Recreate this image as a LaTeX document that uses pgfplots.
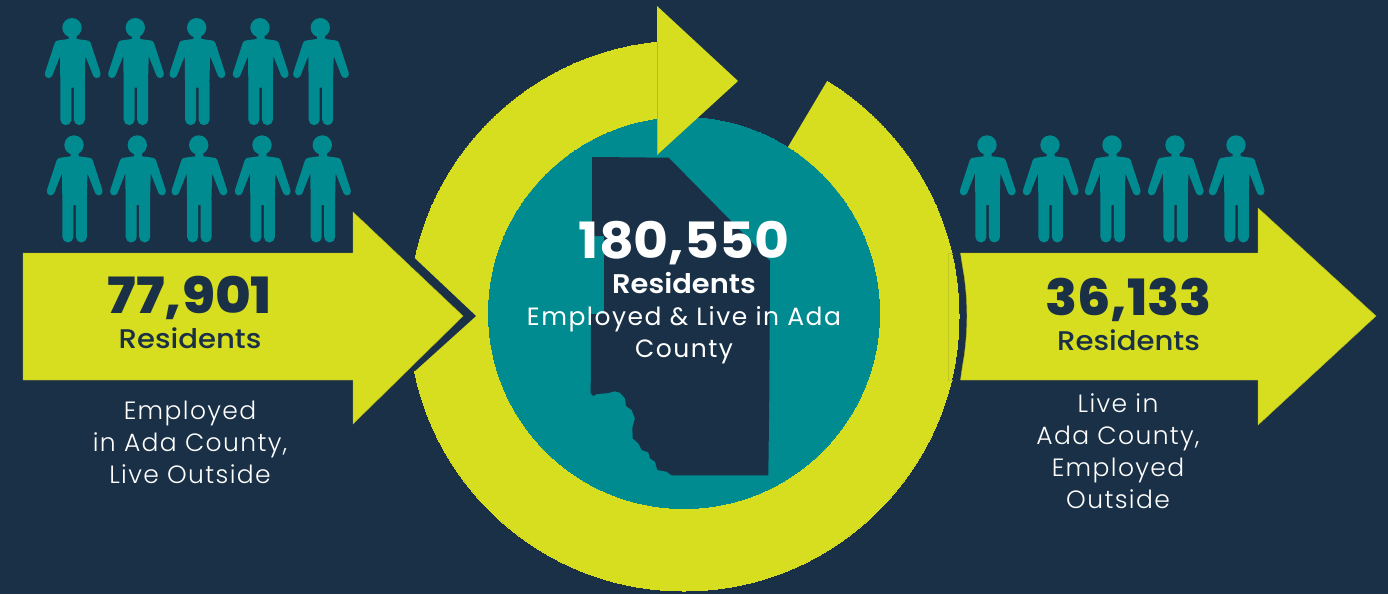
\documentclass[border=0pt]{standalone}
\usepackage{pgfplots}
\pgfplotsset{compat=1.18}
\usepackage{fontspec}
\setmainfont{Poppins}
\newfontfamily\numw[FakeStretch=1.075]{Poppins Bold}
\newfontfamily\numd[FakeStretch=1.05]{Poppins ExtraBold}
\newfontfamily\numl[FakeStretch=1.09]{Poppins ExtraBold}
\newfontfamily\semi[FakeStretch=1.08]{Poppins Medium}
\newfontfamily\semic[FakeStretch=1.07]{Poppins SemiBold}
\newfontfamily\lite[LetterSpace=5.5]{Poppins Light}
\newfontfamily\litec[LetterSpace=6]{Poppins}
\definecolor{navy}{HTML}{1A3046}
\definecolor{teal2}{HTML}{008B91}
\definecolor{lime}{HTML}{D7DD1F}
\definecolor{olive}{HTML}{B4BA24}
\definecolor{ghost}{HTML}{C2C824}
\tikzset{tx/.style={anchor=base, inner sep=0pt, align=center}}

% One standing figure; the origin of the mark is the centre of the head.
\newcommand\mv[2]{\pgfpathmoveto{\pgfqpoint{#1pt}{#2pt}}}
\newcommand\li[2]{\pgfpathlineto{\pgfqpoint{#1pt}{#2pt}}}
\pgfdeclareplotmark{person}{%
  \pgfpathcircle{\pgfqpoint{0pt}{0pt}}{9.7pt}%
  \mv{-3.3}{-6}\li{-3.3}{-11.3}\li{-13}{-12.6}\li{-15.5}{-13.2}\li{-17.2}{-15}%
  \li{-27}{-45}\li{-20}{-48.5}\li{-12}{-28.3}\li{-11.6}{-60}\li{12.6}{-60}%
  \li{13.4}{-28.3}\li{21.4}{-48.5}\li{28.4}{-45}\li{18.6}{-15}\li{16.9}{-13.2}%
  \li{14.4}{-12.6}\li{4.7}{-11.3}\li{4.7}{-6}\pgfpathclose
  \pgfpathcircle{\pgfqpoint{-23.4pt}{-46.6pt}}{3.8pt}%
  \pgfpathcircle{\pgfqpoint{24.8pt}{-46.6pt}}{3.8pt}%
  \mv{-11.6}{-55}\li{-11.6}{-92}\li{-0.6}{-92}\li{-0.6}{-55}\pgfpathclose
  \mv{1.9}{-55}\li{1.9}{-92}\li{12.9}{-92}\li{12.9}{-55}\pgfpathclose
  \pgfpathcircle{\pgfqpoint{-6.1pt}{-92pt}}{5.5pt}%
  \pgfpathcircle{\pgfqpoint{7.4pt}{-92pt}}{5.5pt}%
  \pgfusepathqfill
}

\begin{document}
\begin{tikzpicture}
\begin{axis}[
  x=1pt, y=1pt, y dir=reverse,
  xmin=0, xmax=1388, ymin=0, ymax=594,
  hide axis, clip=false, clip mode=individual,
]
% background
\addplot[fill=navy, draw=none, mark=none] coordinates {(0,0) (1388,0) (1388,594) (0,594)} -- cycle;

% circular arrow: full disc, opening cut away, inner disc on top
\addplot[only marks, mark=*, mark size=275pt, mark options={fill=lime, draw=lime, line width=0pt}] coordinates {(684,316)};
\addplot[fill=navy, draw=none, mark=none] coordinates {(657,0) (875,0) (786,150) (700,295) (657,295)} -- cycle;
\addplot[only marks, mark=*, mark size=195.5pt, mark options={fill=teal2, draw=teal2, line width=0pt}] coordinates {(684,313)};

% county outline
\addplot[fill=navy, draw=none, mark=none] coordinates {
  (592,157) (668.7,157.7) (733,223) (770,261) (769.3,396.7) (768.3,475.3) (671.7,475.3)
  (666.7,471.7) (657.3,470) (655,461.7) (650,458.3) (648.3,452.3) (641.7,450) (638.3,443.3)
  (632.7,438.3) (632.3,428.3) (635,418.3) (631.7,410) (626,406) (625,398.3) (620,392.7)
  (615,391.3) (606.7,393.3) (596.7,394) (593.3,396) (590.7,393.3) (591,314) (604,314)
  (604,236) (592,236)} -- cycle;

% head of the circular arrow
\addplot[fill=lime, draw=none, mark=none] coordinates {(657,6) (738,81) (657,155)} -- cycle;
\addplot[olive, line width=0.6pt, mark=none] coordinates {(657,42) (657,155)};

% faint guide on the ring beside the right-hand arrow
\addplot[ghost, line width=0.5pt, mark=none] coordinates {(952.5,253.3) (948.5,253.3) (948.5,380) (952.5,380)};

% notch the incoming arrow cuts out of the ring
\addplot[fill=navy, draw=none, mark=none] coordinates {(408,262) (415,258.5) (476,316) (415,371) (408,368)} -- cycle;

% incoming arrow
\addplot[fill=lime, draw=olive, line width=0.4pt, mark=none] coordinates {
  (23,253) (353,253) (353,212) (463,316) (353,424) (353,380) (23,380)} -- cycle;

% outgoing arrow, its tail following the ring
\addplot[fill=lime, draw=olive, line width=0.4pt, mark=none] coordinates {
  (960.5,253) (1258,253) (1258,208) (1376,316) (1258,425) (1258,380) (960.5,380)
  (962.5,366) (964.2,356) (965.4,346) (966.3,336) (966.8,326) (967,316) (966.8,306)
  (966.3,296) (965.4,286) (964.2,276) (962.5,266)} -- cycle;

% figures
\addplot[only marks, mark=person, teal2, mark options={fill=teal2, draw=teal2}] coordinates {
  (72,27.7) (135.3,27.7) (196.7,27.7) (260,27.7) (320.3,27.7)
  (74,145) (137.3,145) (198.7,145) (262,145) (322.3,145)
  (987,145) (1050,145) (1112,145) (1175,145) (1236,145)};

% centre text
\node[tx, text=white] at (axis cs:684,258) {\fontsize{50}{50}\selectfont\numw 180,550};
\node[tx, text=white] at (axis cs:684,293) {\fontsize{27}{27}\selectfont\semic Residents};
\node[tx, text=white] at (axis cs:684,325) {\fontsize{25}{25}\selectfont\litec Employed \& Live in Ada};
\node[tx, text=white] at (axis cs:684,357) {\fontsize{25}{25}\selectfont\litec County};

% left text
\node[tx, text=navy] at (axis cs:190,313) {\fontsize{50}{50}\selectfont\numl 77,901};
\node[tx, text=navy] at (axis cs:190,348) {\fontsize{27}{27}\selectfont\semi Residents};
\node[tx, text=white] at (axis cs:190,419) {\fontsize{25}{25}\selectfont\lite Employed};
\node[tx, text=white] at (axis cs:190,451) {\fontsize{25}{25}\selectfont\lite in Ada County,};
\node[tx, text=white] at (axis cs:190,483) {\fontsize{25}{25}\selectfont\lite Live Outside};

% right text
\node[tx, text=navy] at (axis cs:1128.5,315) {\fontsize{50}{50}\selectfont\numd 36,133};
\node[tx, text=navy] at (axis cs:1128.5,350) {\fontsize{27}{27}\selectfont\semi Residents};
\node[tx, text=white] at (axis cs:1118,412) {\fontsize{25}{25}\selectfont\lite Live in};
\node[tx, text=white] at (axis cs:1118,444) {\fontsize{25}{25}\selectfont\lite Ada County,};
\node[tx, text=white] at (axis cs:1118,476) {\fontsize{25}{25}\selectfont\lite Employed};
\node[tx, text=white] at (axis cs:1118,508) {\fontsize{25}{25}\selectfont\lite Outside};
\end{axis}
\end{tikzpicture}
\end{document}
